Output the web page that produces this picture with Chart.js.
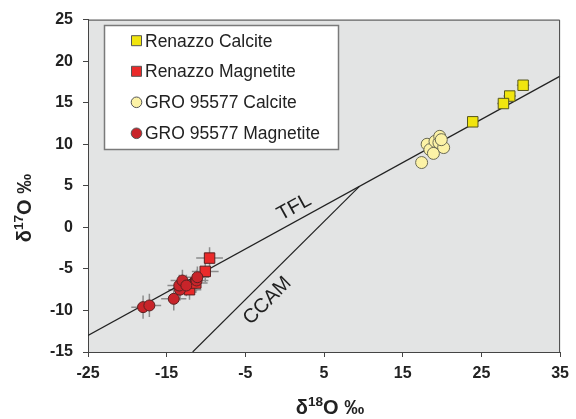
<!DOCTYPE html>
<html>
<head>
<meta charset="utf-8">
<script src="https://cdn.jsdelivr.net/npm/chart.js@4"></script>
<style>
  html, body { margin: 0; padding: 0; background: #fff; }
  #wrap { width: 576px; height: 419px; }
</style>
</head>
<body>
<div id="wrap"><canvas id="oxyChart" width="576" height="419"></canvas></div>
<script>
// oxygen three-isotope plot: d18O vs d17O

const FONT = '"Liberation Sans", Arial, sans-serif';

const xTickValues = [-25, -15, -5, 5, 15, 25, 35];
const yTickValues = [-15, -10, -5, 0, 5, 10, 15, 20, 25];

const seriesNames = ['Renazzo Calcite', 'Renazzo Magnetite', 'GRO 95577 Calcite', 'GRO 95577 Magnetite'];

const renazzoCalciteX = [30.3, 28.6, 27.8, 23.9];
const renazzoCalciteY = [17.1, 15.8, 14.9, 12.7];
const renazzoCalciteErrX = [0.8, 0.8, 0.8, 0.7];
const renazzoCalciteErrY = [0.6, 0.6, 0.6, 0.5];

const renazzoMagX = [-9.55, -10.1, -12.1, -11.3];
const renazzoMagY = [-3.7, -5.3, -7.5, -6.7];
const renazzoMagErrX = [1.7, 1.7, 1.5, 1.5];
const renazzoMagErrY = [1.3, 1.3, 1.2, 1.2];

const groCalciteX = [17.4, 18.1, 18.45, 18.9, 19.1, 19.6, 19.7, 20.2, 19.9];
const groCalciteY = [7.8, 10.0, 9.35, 8.9, 10.35, 10.2, 10.95, 9.6, 10.55];
const groCalciteErrX = [0.3, 0.3, 0.3, 0.3, 0.3, 0.3, 0.3, 0.3, 0.3];
const groCalciteErrY = [0.3, 0.3, 0.3, 0.3, 0.3, 0.3, 0.3, 0.3, 0.3];

const groMagX = [-18.0, -17.2, -14.1, -13.3, -13.4, -13.0, -12.5, -11.2, -11.1];
const groMagY = [-9.6, -9.4, -8.6, -7.5, -7.0, -6.4, -7.0, -6.4, -6.0];
const groMagErrX = [1.5, 1.5, 1.6, 1.5, 1.5, 1.5, 1.5, 1.5, 1.5];
const groMagErrY = [1.4, 1.4, 1.4, 1.3, 1.3, 1.3, 1.3, 1.3, 1.3];

// reference lines (end points)
const tflX = [-25, 35];
const tflY = [-13.0, 18.2];
const ccamX = [-11.7, 9.5];
const ccamY = [-15, 4.93];

// where the line names sit, in data units
const tflLabelAt = [1.2, 2.4];
const ccamLabelAt = [-2.2, -8.85];

const colors = {
  renCal: '#f1e50e',
  renMag: '#ea2a2a',
  groCal: '#fcf2a6',
  groMag: '#c8242a'
};

function pts(xs, ys) {
  return xs.map((x, i) => ({ x: x, y: ys[i] }));
}

const errorSets = [
  [renazzoCalciteX, renazzoCalciteY, renazzoCalciteErrX, renazzoCalciteErrY],
  [renazzoMagX, renazzoMagY, renazzoMagErrX, renazzoMagErrY],
  [groCalciteX, groCalciteY, groCalciteErrX, groCalciteErrY],
  [groMagX, groMagY, groMagErrX, groMagErrY]
];

function drawSup(ctx, parts, cx, cy, size) {
  // parts: [text, isSup]
  const supSize = size * 0.68;
  let total = 0;
  const widths = parts.map(p => {
    ctx.font = 'bold ' + (p[1] ? supSize : size) + 'px ' + FONT;
    const w = ctx.measureText(p[0]).width;
    total += w;
    return w;
  });
  let x = cx - total / 2;
  parts.forEach((p, i) => {
    ctx.font = 'bold ' + (p[1] ? supSize : size) + 'px ' + FONT;
    ctx.fillText(p[0], x, p[1] ? cy - size * 0.3 : cy);
    x += widths[i];
  });
}

const oxyPlugin = {
  id: 'oxyPlugin',
  beforeDraw(chart) {
    const { ctx, chartArea: a } = chart;
    ctx.save();
    ctx.fillStyle = '#e3e4e4';
    ctx.fillRect(a.left, a.top, a.right - a.left, a.bottom - a.top);
    ctx.restore();
  },
  beforeDatasetsDraw(chart) {
    const { ctx } = chart;
    const xs = chart.scales.x, ys = chart.scales.y;
    ctx.save();
    ctx.strokeStyle = '#8c8c8c';
    ctx.lineWidth = 1.5;
    errorSets.forEach(set => {
      const [X, Y, EX, EY] = set;
      X.forEach((v, i) => {
        const px = xs.getPixelForValue(v), py = ys.getPixelForValue(Y[i]);
        ctx.beginPath();
        ctx.moveTo(xs.getPixelForValue(v - EX[i]), py);
        ctx.lineTo(xs.getPixelForValue(v + EX[i]), py);
        ctx.moveTo(px, ys.getPixelForValue(Y[i] - EY[i]));
        ctx.lineTo(px, ys.getPixelForValue(Y[i] + EY[i]));
        ctx.stroke();
      });
    });
    ctx.restore();
  },
  afterDatasetsDraw(chart) {
    const { ctx, chartArea: a } = chart;
    const xs = chart.scales.x, ys = chart.scales.y;
    ctx.save();
    // top and right frame
    ctx.strokeStyle = '#444';
    ctx.lineWidth = 1;
    ctx.beginPath();
    ctx.moveTo(a.left, a.top + 0.5);
    ctx.lineTo(a.right - 0.5, a.top + 0.5);
    ctx.lineTo(a.right - 0.5, a.bottom);
    ctx.stroke();

    // line names, rotated along their lines
    ctx.fillStyle = '#1e1e1e';
    ctx.font = '20px ' + FONT;
    ctx.textAlign = 'center';
    ctx.textBaseline = 'middle';
    const labels = [
      ['TFL', tflLabelAt, tflX, tflY],
      ['CCAM', ccamLabelAt, ccamX, ccamY]
    ];
    labels.forEach(l => {
      const ang = Math.atan2(
        ys.getPixelForValue(l[3][1]) - ys.getPixelForValue(l[3][0]),
        xs.getPixelForValue(l[2][1]) - xs.getPixelForValue(l[2][0]));
      ctx.save();
      ctx.translate(xs.getPixelForValue(l[1][0]), ys.getPixelForValue(l[1][1]));
      ctx.rotate(ang);
      ctx.fillText(l[0], 0, 0);
      ctx.restore();
    });
    ctx.restore();
  },
  afterDraw(chart) {
    const { ctx, chartArea: a } = chart;
    ctx.save();
    // legend box
    ctx.fillStyle = '#fff';
    ctx.fillRect(104.5, 25.5, 234, 124);
    ctx.strokeStyle = '#7a7a7a';
    ctx.lineWidth = 1.5;
    ctx.strokeRect(104.5, 25.5, 234, 124);
    const rows = [40.7, 71.3, 102.3, 133.3];
    const fills = [colors.renCal, colors.renMag, colors.groCal, colors.groMag];
    const square = [true, true, false, false];
    rows.forEach((ry, i) => {
      ctx.fillStyle = fills[i];
      ctx.strokeStyle = '#555';
      ctx.lineWidth = 1;
      ctx.beginPath();
      if (square[i]) ctx.rect(131.5, ry - 5, 10, 10);
      else ctx.arc(136.5, ry, 5.3, 0, Math.PI * 2);
      ctx.fill();
      ctx.stroke();
      ctx.fillStyle = '#222';
      ctx.font = '17.5px ' + FONT;
      ctx.textAlign = 'left';
      ctx.textBaseline = 'middle';
      ctx.fillText(seriesNames[i], 145, ry + 1);
    });

    // axis titles
    ctx.fillStyle = '#222';
    ctx.textAlign = 'left';
    ctx.textBaseline = 'middle';
    drawSup(ctx, [['δ', false], ['18', true], ['O ‰', false]], 330, 408, 20);
    ctx.save();
    ctx.translate(25, 208);
    ctx.rotate(-Math.PI / 2);
    drawSup(ctx, [['δ', false], ['17', true], ['O ‰', false]], 0, 0, 20);
    ctx.restore();
    ctx.restore();
  }
};

const lineStyle = { borderColor: '#222', borderWidth: 1.2, pointRadius: 0, showLine: true, fill: false };

new Chart(document.getElementById('oxyChart'), {
  type: 'scatter',
  data: {
    datasets: [
      {
        label: seriesNames[3], data: pts(groMagX, groMagY), order: 1,
        pointStyle: 'circle', pointRadius: 5.5, backgroundColor: colors.groMag,
        borderColor: '#5a2020', borderWidth: 1
      },
      {
        label: seriesNames[1], data: pts(renazzoMagX, renazzoMagY), order: 2,
        pointStyle: 'rect', pointRadius: 7.4, backgroundColor: colors.renMag,
        borderColor: '#5a2020', borderWidth: 1
      },
      {
        label: seriesNames[2], data: pts(groCalciteX, groCalciteY), order: 3,
        pointStyle: 'circle', pointRadius: 6, backgroundColor: colors.groCal,
        borderColor: '#6a6a55', borderWidth: 1
      },
      {
        label: seriesNames[0], data: pts(renazzoCalciteX, renazzoCalciteY), order: 4,
        pointStyle: 'rect', pointRadius: 7.4, backgroundColor: colors.renCal,
        borderColor: '#55551e', borderWidth: 1
      },
      Object.assign({ label: 'TFL', data: pts(tflX, tflY), order: 10 }, lineStyle),
      Object.assign({ label: 'CCAM', data: pts(ccamX, ccamY), order: 11 }, lineStyle)
    ]
  },
  options: {
    responsive: false,
    animation: false,
    events: [],
    layout: { padding: { top: 15, right: 13, left: 0, bottom: 0 } },
    plugins: {
      legend: { display: false },
      tooltip: { enabled: false }
    },
    scales: {
      x: {
        type: 'linear',
        min: -25,
        max: 35,
        afterBuildTicks: s => { s.ticks = xTickValues.map(v => ({ value: v })); },
        afterFit: s => { s.height = 67; },
        ticks: {
          font: { family: FONT, size: 16, weight: 'bold' },
          color: '#222',
          padding: 7,
          maxRotation: 0
        },
        grid: { drawOnChartArea: false, tickLength: 5, tickColor: '#444' },
        border: { color: '#444', width: 1 }
      },
      y: {
        type: 'linear',
        min: -15,
        max: 25,
        afterBuildTicks: s => { s.ticks = yTickValues.map(v => ({ value: v })); },
        afterFit: s => { s.width = 88; },
        ticks: {
          font: { family: FONT, size: 16, weight: 'bold' },
          color: '#222',
          padding: 10
        },
        grid: { drawOnChartArea: false, tickLength: 5, tickColor: '#444' },
        border: { color: '#444', width: 1 }
      }
    }
  },
  plugins: [oxyPlugin]
});
</script>
</body>
</html>
